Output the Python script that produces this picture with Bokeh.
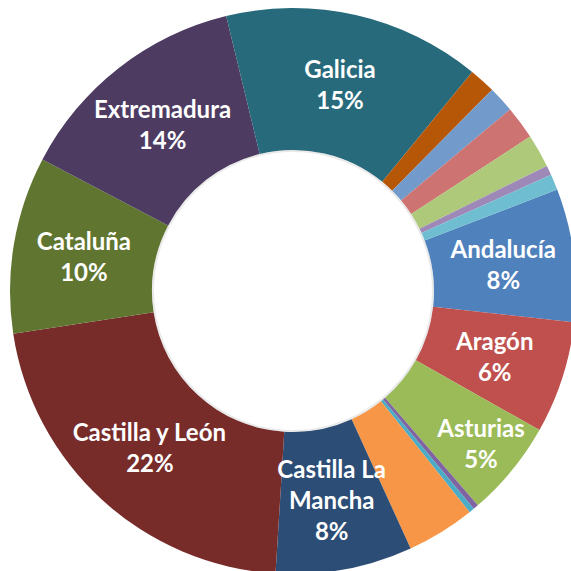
import math
from bokeh.plotting import figure
from bokeh.models import Range1d, ColumnDataSource
from bokeh.core.properties import value
from bokeh.embed import file_html
from bokeh.resources import INLINE

# ---- data ----
regions = ["Andalucía", "Aragón", "Asturias", "Baleares", "Canarias", "Cantabria",
           "Castilla La Mancha", "Castilla y León", "Cataluña", "Extremadura", "Galicia",
           "Madrid", "Murcia", "Navarra", "País Vasco", "La Rioja", "C. Valenciana"]
shares = [7.6, 6.4, 5.5, 0.3, 0.3, 3.9, 7.8, 21.6, 10.1, 13.5, 14.7,
          1.5, 1.5, 1.9, 1.9, 0.55, 0.9]
colors = ["#4F81BD", "#C0504D", "#9BBB59", "#8064A2", "#4BACC6", "#F79646",
          "#2C4D75", "#772C2A", "#5F7530", "#4D3B62", "#276A7C",
          "#B65708", "#729ACA", "#CD7371", "#AFC97A", "#9E88B8", "#6FBDD1"]
label_lines = {
    "Andalucía": ["Andalucía", "8%"],
    "Aragón": ["Aragón", "6%"],
    "Asturias": ["Asturias", "5%"],
    "Castilla La Mancha": ["Castilla La", "Mancha", "8%"],
    "Castilla y León": ["Castilla y León", "22%"],
    "Cataluña": ["Cataluña", "10%"],
    "Extremadura": ["Extremadura", "14%"],
    "Galicia": ["Galicia", "15%"],
}
# labels that were dragged away from their default spot (pixels: right, down)
label_nudge = {"Asturias": (24, 18)}
first_slice_angle = 69.0  # degrees, clockwise from 12 o'clock

# ---- geometry ----
W = H = 571
cx, cy = 292.5, 290.5      # centre in frame pixels from top-left
R_OUT, R_IN = 283, 141
R_LAB = (R_OUT + R_IN) / 2
LINE_H = 31

total = sum(shares)
starts, ends = [], []
acc = first_slice_angle
for s in shares:
    a0 = acc
    a1 = acc + s / total * 360.0
    starts.append(math.radians(90.0 - a1))
    ends.append(math.radians(90.0 - a0))
    acc = a1

src = ColumnDataSource(dict(region=regions, start=starts, end=ends, color=colors))

p = figure(width=W, height=H, output_backend="svg", toolbar_location=None,
           x_range=Range1d(-cx, W - cx), y_range=Range1d(-(H - cy), cy),
           min_border=0, outline_line_color=None)
p.axis.visible = False
p.grid.visible = False
p.background_fill_color = "white"
p.border_fill_color = "white"

p.annular_wedge(x=0, y=0, inner_radius=R_IN, outer_radius=R_OUT,
                start_angle="start", end_angle="end", direction="anticlock",
                fill_color="color", line_color=None, source=src)
# faint shadow at the hole edge
p.circle(x=0, y=0, radius=R_IN - 1, fill_color=None, line_color="#b8b8b8",
         line_alpha=0.3, line_width=2)

tx, ty, tt = [], [], []
for i, r in enumerate(regions):
    if r not in label_lines:
        continue
    mid = (starts[i] + ends[i]) / 2
    dx, dy = label_nudge.get(r, (0, 0))
    lx = R_LAB * math.cos(mid) + dx
    ly = R_LAB * math.sin(mid) - dy
    lines = label_lines[r]
    n = len(lines)
    for k, t in enumerate(lines):
        tx.append(lx)
        ty.append(ly + ((n - 1) / 2 - k) * LINE_H)
        tt.append(t)

p.text(x=tx, y=ty, text=tt, text_align="center", text_baseline="middle",
       text_color="white", text_font=value("Lato"), text_font_style="bold",
       text_font_size="24px")

open("out.html", "w").write(file_html(p, INLINE))
